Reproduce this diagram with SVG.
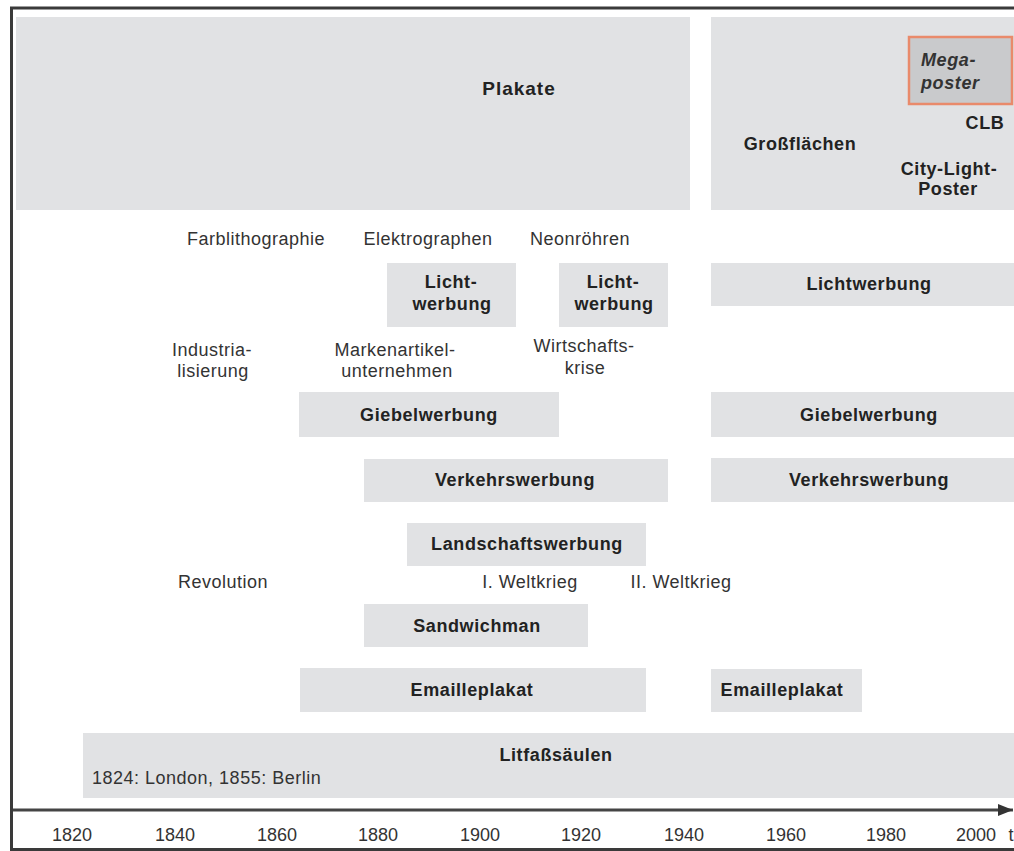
<svg xmlns="http://www.w3.org/2000/svg" width="1014" height="851" viewBox="0 0 1014 851">
  <style>
    .box { fill: #e1e2e4; }
    .b { font-family: "Liberation Sans", Arial, sans-serif; font-weight: bold; font-size: 18px; letter-spacing: 0.6px; fill: #222; text-anchor: middle; }
    .r { font-family: "Liberation Sans", Arial, sans-serif; font-size: 18px; letter-spacing: 0.5px; fill: #333; text-anchor: middle; }
    .yr { font-family: "Liberation Sans", Arial, sans-serif; font-size: 18px; fill: #333; text-anchor: middle; }
  </style>
  <defs>
    <marker id="arrow" viewBox="0 0 10 10" refX="10" refY="5" markerWidth="5" markerHeight="5" orient="auto" markerUnits="strokeWidth">
      <path d="M0,1 L10,5 L0,9 Z" fill="#333"/>
    </marker>
  </defs>

  <rect x="0" y="0" width="1014" height="851" fill="#ffffff"/>
  <!-- frame -->
  <path d="M1014,8 H11.5 V849.5 H1014" fill="none" stroke="#3a3a3a" stroke-width="3"/>

  <!-- poster area -->
  <g id="plakate">
    <rect class="box" x="16" y="17" width="674" height="193"/>
    <text class="b" x="519" y="95" style="font-size:19px;letter-spacing:1px">Plakate</text>
  </g>
  <g id="grossflaechen">
    <rect class="box" x="711" y="17" width="303" height="193"/>
    <text class="b" x="800" y="150">Großflächen</text>
  </g>
  <g id="megaposter">
    <rect x="909" y="37" width="103" height="67" fill="#c9cacc" stroke="#e98a6b" stroke-width="2.5"/>
    <text class="b" x="921" y="66" style="text-anchor:start;font-style:italic;fill:#333">Mega-</text>
    <text class="b" x="921" y="89" style="text-anchor:start;font-style:italic;fill:#333">poster</text>
  </g>
  <g id="clb">
    <text class="b" x="985" y="129">CLB</text>
  </g>
  <g id="citylight">
    <text class="b" x="949" y="175">City-Light-</text>
    <text class="b" x="948" y="195">Poster</text>
  </g>

  <!-- technology labels -->
  <g id="farblithographie"><text class="r" x="256" y="245">Farblithographie</text></g>
  <g id="elektrographen"><text class="r" x="428" y="245">Elektrographen</text></g>
  <g id="neonroehren"><text class="r" x="580" y="245">Neonröhren</text></g>

  <!-- illuminated advertising -->
  <g id="licht1">
    <rect class="box" x="387" y="263" width="129" height="64"/>
    <text class="b" x="451" y="288">Licht-</text>
    <text class="b" x="452" y="310">werbung</text>
  </g>
  <g id="licht2">
    <rect class="box" x="559" y="263" width="109" height="64"/>
    <text class="b" x="613" y="288">Licht-</text>
    <text class="b" x="614" y="310">werbung</text>
  </g>
  <g id="licht3">
    <rect class="box" x="711" y="263" width="303" height="43"/>
    <text class="b" x="869" y="290">Lichtwerbung</text>
  </g>

  <!-- historical context -->
  <g id="industrialisierung">
    <text class="r" x="212" y="356">Industria-</text>
    <text class="r" x="213" y="377">lisierung</text>
  </g>
  <g id="markenartikel">
    <text class="r" x="395" y="356">Markenartikel-</text>
    <text class="r" x="397" y="377">unternehmen</text>
  </g>
  <g id="wirtschaftskrise">
    <text class="r" x="584" y="352">Wirtschafts-</text>
    <text class="r" x="585" y="374">krise</text>
  </g>

  <!-- gable advertising -->
  <g id="giebel1">
    <rect class="box" x="299" y="392" width="260" height="45"/>
    <text class="b" x="429" y="421">Giebelwerbung</text>
  </g>
  <g id="giebel2">
    <rect class="box" x="711" y="392" width="303" height="45"/>
    <text class="b" x="869" y="421">Giebelwerbung</text>
  </g>

  <!-- transit advertising -->
  <g id="verkehr1">
    <rect class="box" x="364" y="459" width="304" height="43"/>
    <text class="b" x="515" y="486">Verkehrswerbung</text>
  </g>
  <g id="verkehr2">
    <rect class="box" x="711" y="458" width="303" height="44"/>
    <text class="b" x="869" y="486">Verkehrswerbung</text>
  </g>

  <g id="landschaft">
    <rect class="box" x="407" y="523" width="239" height="43"/>
    <text class="b" x="527" y="550">Landschaftswerbung</text>
  </g>

  <g id="revolution"><text class="r" x="223" y="588">Revolution</text></g>
  <g id="weltkrieg1"><text class="r" x="530" y="588">I. Weltkrieg</text></g>
  <g id="weltkrieg2"><text class="r" x="681" y="588">II. Weltkrieg</text></g>

  <g id="sandwichman">
    <rect class="box" x="364" y="604" width="224" height="43"/>
    <text class="b" x="477" y="632">Sandwichman</text>
  </g>

  <g id="email1">
    <rect class="box" x="300" y="668" width="346" height="44"/>
    <text class="b" x="472" y="696">Emailleplakat</text>
  </g>
  <g id="email2">
    <rect class="box" x="711" y="669" width="151" height="43"/>
    <text class="b" x="782" y="696">Emailleplakat</text>
  </g>

  <g id="litfass">
    <rect class="box" x="83" y="733" width="931" height="65"/>
    <text class="b" x="556" y="761">Litfaßsäulen</text>
    <text class="r" x="92" y="784" style="text-anchor:start">1824: London, 1855: Berlin</text>
  </g>

  <!-- time axis -->
  <g id="connectors">
    <line x1="13" y1="810" x2="1013" y2="810" stroke="#444" stroke-width="3" marker-end="url(#arrow)"/>
  </g>
  <g id="years">
    <text class="yr" x="72" y="841">1820</text>
    <text class="yr" x="175" y="841">1840</text>
    <text class="yr" x="277" y="841">1860</text>
    <text class="yr" x="378" y="841">1880</text>
    <text class="yr" x="480" y="841">1900</text>
    <text class="yr" x="581" y="841">1920</text>
    <text class="yr" x="684" y="841">1940</text>
    <text class="yr" x="786" y="841">1960</text>
    <text class="yr" x="886" y="841">1980</text>
    <text class="yr" x="976" y="841">2000</text>
    <text class="yr" x="1011" y="841">t</text>
  </g>
</svg>
